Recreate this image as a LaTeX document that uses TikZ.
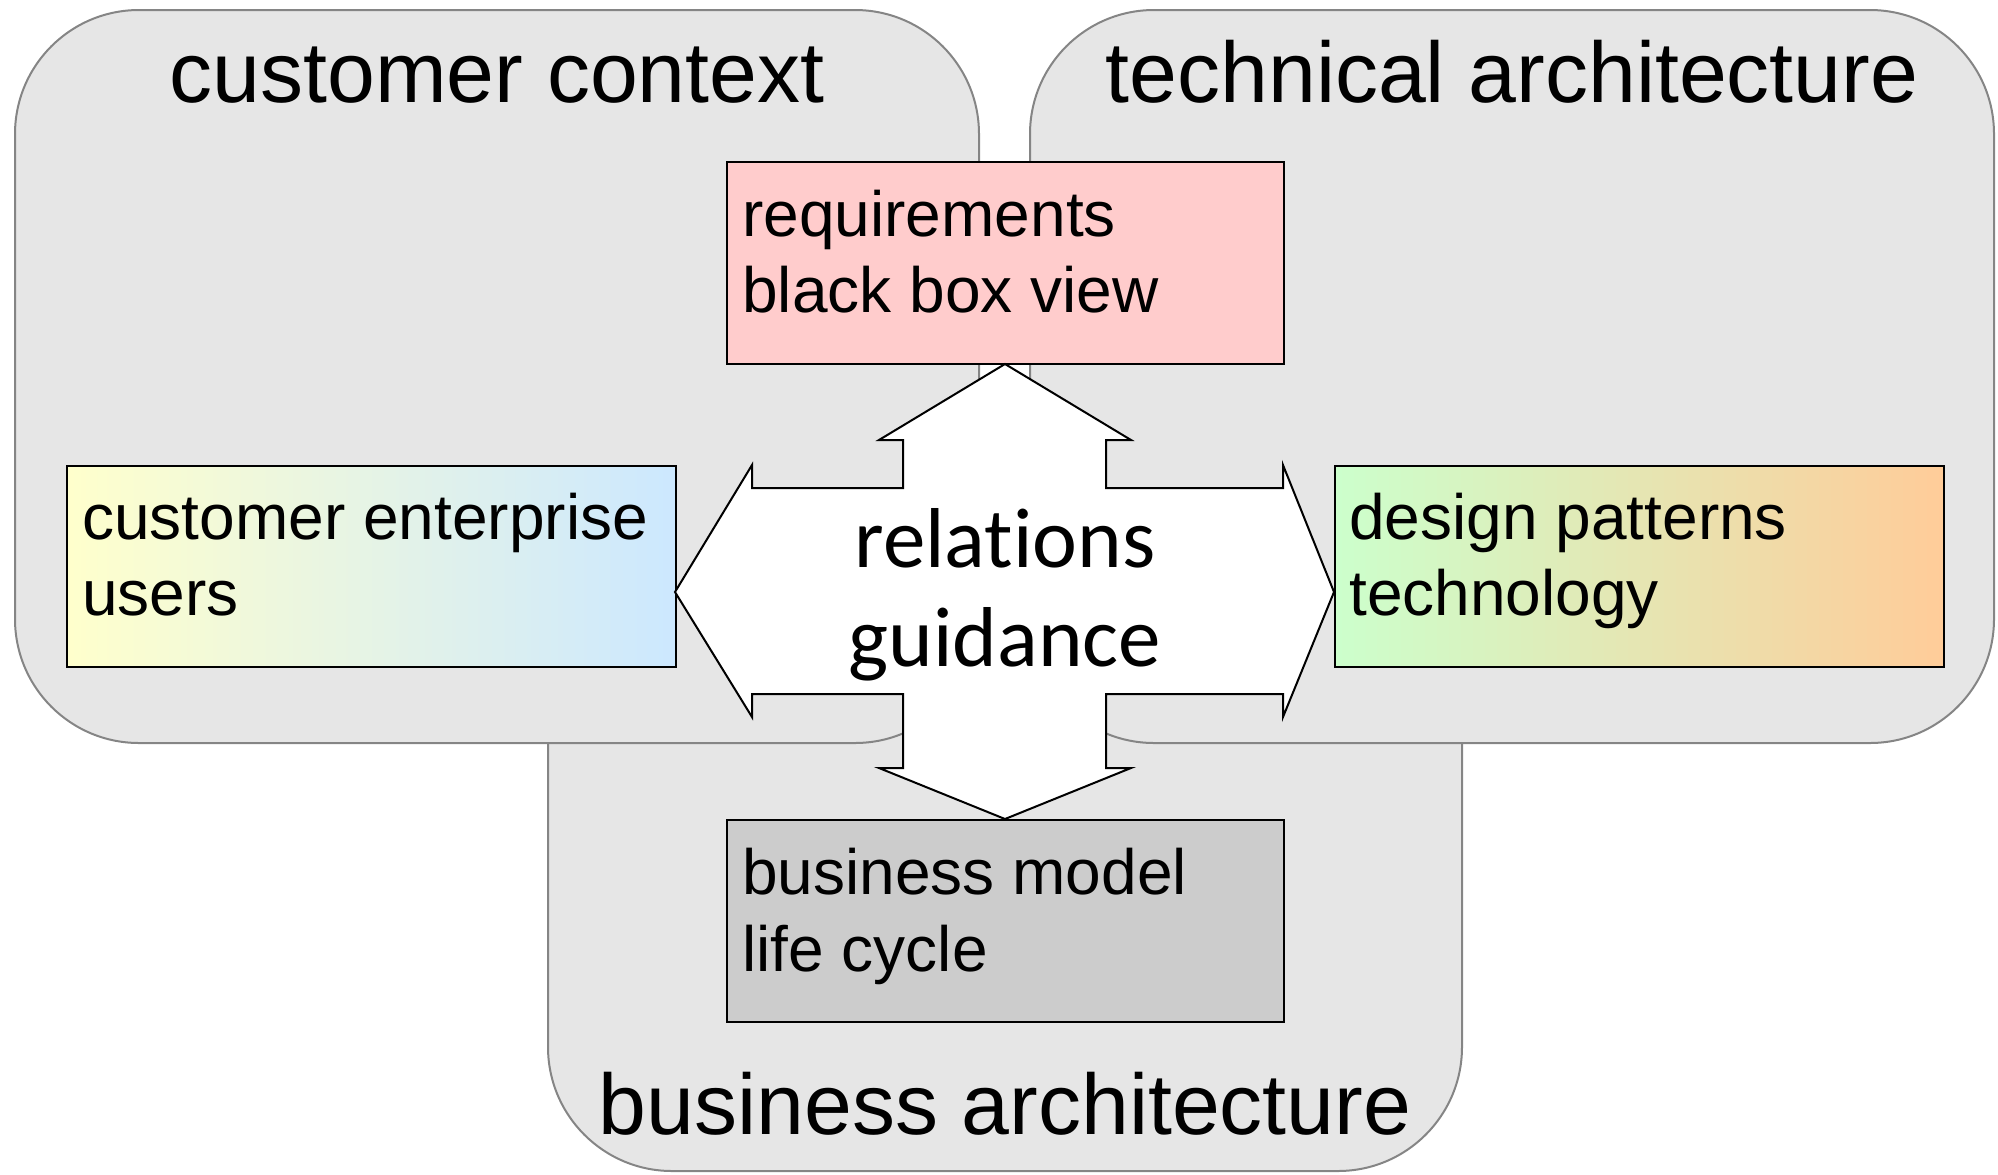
\documentclass[tikz,border=0pt]{standalone}
\usepackage{fontspec}
\setmainfont{Liberation Sans}
\newfontfamily\arrowfont[Ligatures=NoCommon]{Carlito}
\definecolor{regionfill}{HTML}{E6E6E6}
\definecolor{regionborder}{HTML}{858585}
\definecolor{reqfill}{HTML}{FFCCCC}
\definecolor{bmfill}{HTML}{CCCCCC}
\definecolor{celeft}{HTML}{FFFFCC}
\definecolor{ceright}{HTML}{CCE8FF}
\definecolor{dpleft}{HTML}{CCFFCC}
\definecolor{dpright}{HTML}{FFCC99}
\begin{document}
\begin{tikzpicture}[x=0.5pt,y=-0.5pt,
  region/.style={draw=regionborder, fill=regionfill, line width=1pt, rounded corners=62pt},
  infobox/.style={draw=black, line width=1.2pt, anchor=north west, inner sep=0pt},
  wide/.style={infobox, minimum width=304.5pt, minimum height=100.5pt},
  narrow/.style={infobox, minimum width=278.5pt, minimum height=101pt},
  title/.style={font=\fontsize{43}{50}\selectfont, anchor=base, inner sep=0pt},
  boxtext/.style={font=\fontsize{32}{38}\selectfont, anchor=base west, inner sep=0pt},
  arrowtext/.style={font=\arrowfont\fontsize{42.5}{50}\selectfont, anchor=base, inner sep=0pt},
  quadarrow/.style={draw=black, fill=white, line width=1pt, line join=miter}
]
\useasboundingbox (0,0) rectangle (1998,1174);
% regions
\draw[region] (548,500) rectangle (1462,1171);
\draw[region] (15,10) rectangle (979,743);
\draw[region] (1030,10) rectangle (1994,743);
\node[title] (tcc) at (497,102) {customer context};
\node[title] (tta) at (1512,102) {technical architecture};
\node[title] (tba) at (1005,1134) {business architecture};
% inner boxes
\node[narrow, fill=reqfill] (req) at (726,161) {};
\node[wide, left color=celeft, right color=ceright] (cust) at (66,465) {};
\node[wide, left color=dpleft, right color=dpright] (dp) at (1334,465) {};
\node[narrow, fill=bmfill] (bm) at (726,819) {};
\node[boxtext] (req1) at (742,236) {requirements};
\node[boxtext] (req2) at (742,312) {black box view};
\node[boxtext] (cust1) at (82,539) {customer enterprise};
\node[boxtext] (cust2) at (82,615) {users};
\node[boxtext] (dp1) at (1349,539) {design patterns};
\node[boxtext] (dp2) at (1349,615) {technology};
\node[boxtext] (bm1) at (742,894) {business model};
\node[boxtext] (bm2) at (742,971) {life cycle};
% quad arrow
\draw[quadarrow] (1005,364) -- (1131,440) -- (1106,440) -- (1106,488) -- (1283,488) -- (1283,465)
  -- (1334,592) -- (1283,717) -- (1283,694) -- (1106,694) -- (1106,768) -- (1131,768)
  -- (1005,819) -- (879,768) -- (903,768) -- (903,694) -- (752,694) -- (752,717)
  -- (675,592) -- (752,465) -- (752,488) -- (903,488) -- (903,440) -- (879,440) -- cycle;
\node[arrowtext] (rel) at (1005,567) {relations};
\node[arrowtext] (gui) at (1005,666) {guidance};
\end{tikzpicture}
\end{document}
